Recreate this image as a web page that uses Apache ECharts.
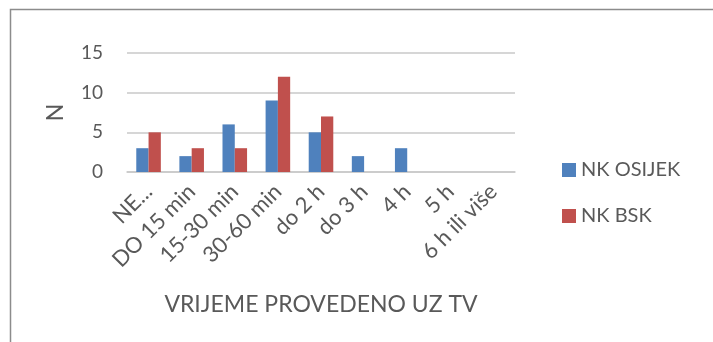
<!DOCTYPE html>
<html>
<head>
<meta charset="utf-8">
<script src="https://cdn.jsdelivr.net/npm/echarts@6/dist/echarts.min.js"></script>
<style>
  html, body { margin: 0; padding: 0; background: #ffffff; }
  #chart { width: 713px; height: 342px; }
</style>
</head>
<body>
<div id="chart"></div>
<script>
// Time spent watching TV, counts per club
const categories = ['NE...', 'DO 15 min', '15-30 min', '30-60 min', 'do 2 h', 'do 3 h', '4 h', '5 h', '6 h ili više'];
const osijekValues = [3, 2, 6, 9, 5, 2, 3, 0, 0];
const bskValues = [5, 3, 3, 12, 7, 0, 0, 0, 0];
const seriesNames = ['NK OSIJEK', 'NK BSK'];
const yTicks = { min: 0, max: 15, interval: 5 };

const FONT = 'Lato, "Open Sans", sans-serif';
const TEXT = '#595959';
const GRID_LINE = '#c9c9c9';

const chart = echarts.init(document.getElementById('chart'), null, { renderer: 'canvas' });

chart.setOption({
  backgroundColor: '#ffffff',
  animation: false,
  textStyle: { fontFamily: FONT, color: TEXT },
  graphic: [{
    type: 'rect',
    silent: true,
    shape: { x: 10.5, y: 9.5, width: 800, height: 400 },
    style: { fill: 'none', stroke: '#8c8c8c', lineWidth: 1.5 }
  }],
  grid: { left: 127, right: 198, top: 53, bottom: 170, containLabel: false },
  legend: {
    orient: 'vertical',
    left: 557,
    top: 154,
    icon: 'rect',
    itemWidth: 14,
    itemHeight: 14,
    itemGap: 24,
    textStyle: { fontFamily: FONT, fontSize: 20, color: TEXT, lineHeight: 22 },
    data: seriesNames
  },
  xAxis: {
    type: 'category',
    data: categories,
    name: 'VRIJEME PROVEDENO UZ TV',
    nameLocation: 'middle',
    nameGap: 121,
    nameTextStyle: { fontFamily: FONT, fontSize: 23, color: TEXT },
    axisLine: { show: true, lineStyle: { color: GRID_LINE, width: 1.5 } },
    axisTick: { show: false },
    axisLabel: {
      rotate: 45,
      interval: 0,
      margin: 16,
      fontFamily: FONT,
      fontSize: 22,
      color: TEXT
    }
  },
  yAxis: {
    type: 'value',
    min: yTicks.min,
    max: yTicks.max,
    interval: yTicks.interval,
    name: 'N',
    nameLocation: 'middle',
    nameRotate: 90,
    nameGap: 60,
    nameTextStyle: { fontFamily: FONT, fontSize: 23, color: TEXT },
    axisLine: { show: false },
    axisTick: { show: false },
    axisLabel: { margin: 24, fontFamily: FONT, fontSize: 19, color: TEXT },
    splitLine: { show: true, lineStyle: { color: GRID_LINE, width: 1.5 } }
  },
  series: [
    {
      name: seriesNames[0],
      type: 'bar',
      data: osijekValues,
      barGap: '0%',
      barCategoryGap: '43%',
      itemStyle: { color: '#4f81bd' }
    },
    {
      name: seriesNames[1],
      type: 'bar',
      data: bskValues,
      barGap: '0%',
      barCategoryGap: '43%',
      itemStyle: { color: '#c0504d' }
    }
  ]
});
</script>
</body>
</html>
